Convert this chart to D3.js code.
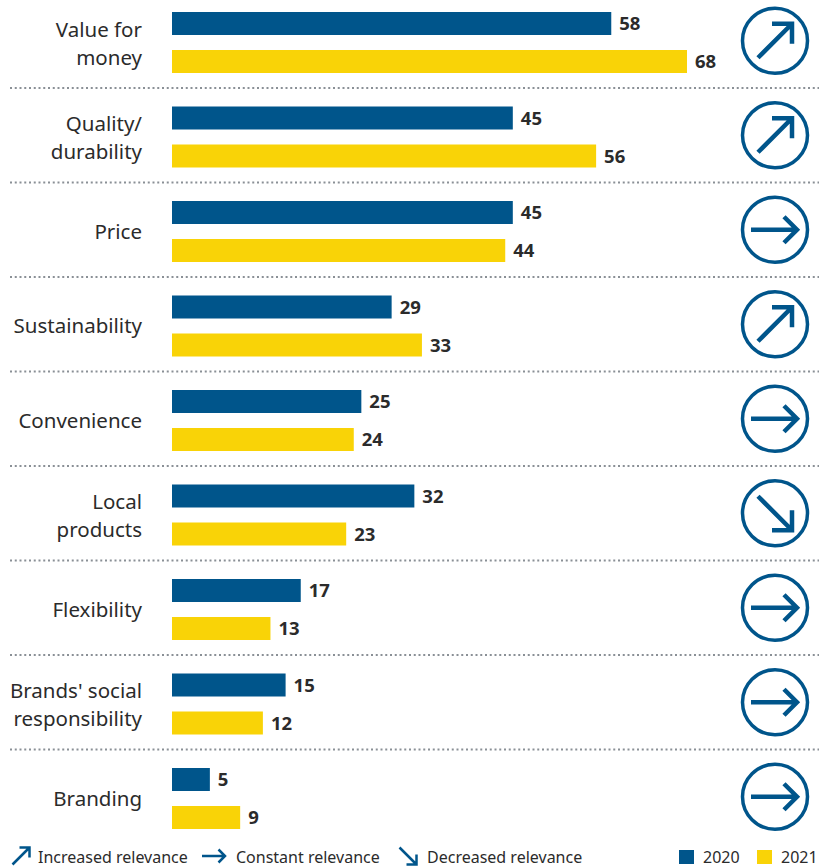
<!DOCTYPE html>
<html>
<head>
<meta charset="utf-8">
<script src="https://d3js.org/d3.v7.min.js"></script>
<style>
  body { margin: 0; background: #fff; }
  text { font-family: "Noto Sans", "Open Sans", sans-serif; }
</style>
</head>
<body>
<div id="chart"></div>
<script>
// data
var categories = ["Value for money", "Quality/ durability", "Price", "Sustainability", "Convenience",
                  "Local products", "Flexibility", "Brands' social responsibility", "Branding"];
var labelLines = [["Value for", "money"], ["Quality/", "durability"], ["Price"], ["Sustainability"],
                  ["Convenience"], ["Local", "products"], ["Flexibility"], ["Brands' social", "responsibility"], ["Branding"]];
var values2020 = [58, 45, 45, 29, 25, 32, 17, 15, 5];
var values2021 = [68, 56, 44, 33, 24, 23, 13, 12, 9];
var trends = ["up", "up", "flat", "up", "flat", "down", "flat", "flat", "flat"];
var years = ["2020", "2021"];
var legendItems = [["up", "Increased relevance"], ["flat", "Constant relevance"], ["down", "Decreased relevance"]];

var W = 819, H = 868;
var blue = "#00558b", yellow = "#f9d307", textCol = "#2b2b2b";

var svg = d3.select("#chart").append("svg")
  .attr("width", W).attr("height", H);

var x = d3.scaleLinear().domain([0, 68]).range([172, 687]);
var y = d3.scaleBand().domain(categories).range([-6.5, 844]);
var barH = 23;

// separators
svg.append("g").selectAll("line")
  .data(categories.slice(1))
  .join("line")
    .attr("x1", 10).attr("x2", W)
    .attr("y1", function(d) { return y(d); })
    .attr("y2", function(d) { return y(d); })
    .attr("stroke", "#8a9096")
    .attr("stroke-width", 2)
    .attr("stroke-dasharray", "2,2.75");

var groups = svg.append("g").selectAll("g")
  .data(categories)
  .join("g")
    .attr("transform", function(d) { return "translate(0," + y(d) + ")"; });

var mid = y.bandwidth() / 2;

// bars
groups.append("rect")
  .attr("x", x(0)).attr("y", 18.5)
  .attr("width", function(d, i) { return x(values2020[i]) - x(0); })
  .attr("height", barH).attr("fill", blue);
groups.append("rect")
  .attr("x", x(0)).attr("y", 56.5)
  .attr("width", function(d, i) { return x(values2021[i]) - x(0); })
  .attr("height", barH).attr("fill", yellow);

// value labels
groups.append("text")
  .attr("x", function(d, i) { return x(values2020[i]) + 8; })
  .attr("y", 18.5 + barH / 2).attr("dy", "0.36em")
  .attr("font-size", 18.5).attr("font-weight", "bold").attr("fill", textCol)
  .text(function(d, i) { return values2020[i]; });
groups.append("text")
  .attr("x", function(d, i) { return x(values2021[i]) + 8; })
  .attr("y", 56.5 + barH / 2).attr("dy", "0.36em")
  .attr("font-size", 18.5).attr("font-weight", "bold").attr("fill", textCol)
  .text(function(d, i) { return values2021[i]; });

// category labels
groups.each(function(d, i) {
  var lines = labelLines[i];
  var t = d3.select(this).append("text")
    .attr("text-anchor", "end")
    .attr("font-size", 20.5).attr("fill", textCol);
  lines.forEach(function(l, j) {
    var by = lines.length === 1 ? mid + 9 : mid - 4 + j * 28;
    t.append("tspan").attr("x", 142).attr("y", by).text(l);
  });
});

// arrow paths, drawn around (0,0)
function arrowPath(type, s) {
  s = s || 1;
  if (type === "up") {
    return "M" + (-17 * s) + "," + (17 * s) + "L" + (17 * s) + "," + (-17 * s) +
           "M" + (-3 * s) + "," + (-17 * s) + "L" + (17 * s) + "," + (-17 * s) + "L" + (17 * s) + "," + (3 * s);
  }
  if (type === "down") {
    return "M" + (-17 * s) + "," + (-17 * s) + "L" + (17 * s) + "," + (17 * s) +
           "M" + (-3 * s) + "," + (17 * s) + "L" + (17 * s) + "," + (17 * s) + "L" + (17 * s) + "," + (-3 * s);
  }
  return "M" + (-24 * s) + "," + 0 + "L" + (22 * s) + "," + 0 +
         "M" + (9 * s) + "," + (-13 * s) + "L" + (22 * s) + "," + 0 + "L" + (9 * s) + "," + (13 * s);
}

var icons = groups.append("g")
  .attr("transform", "translate(775," + mid + ")");
icons.append("circle")
  .attr("r", 32.5).attr("fill", "none")
  .attr("stroke", blue).attr("stroke-width", 3.5);
icons.append("path")
  .attr("d", function(d, i) { return arrowPath(trends[i]); })
  .attr("fill", "none").attr("stroke", blue)
  .attr("stroke-width", 4.5).attr("stroke-linejoin", "miter").attr("stroke-linecap", "butt");

// legend: relevance
var legX = [21, 214, 408], legTextX = [38, 236, 427];
var leg = svg.append("g").selectAll("g")
  .data(legendItems)
  .join("g");
leg.append("path")
  .attr("transform", function(d, i) { return "translate(" + legX[i] + ",856)"; })
  .attr("d", function(d) { return arrowPath(d[0], 0.5); })
  .attr("fill", "none").attr("stroke", blue).attr("stroke-width", 2.5);
leg.append("text")
  .attr("x", function(d, i) { return legTextX[i]; })
  .attr("y", 863)
  .attr("font-size", 16).attr("fill", textCol)
  .text(function(d) { return d[1]; });

// legend: years
var yearX = [679, 757];
var yl = svg.append("g").selectAll("g")
  .data(years)
  .join("g");
yl.append("rect")
  .attr("x", function(d, i) { return yearX[i]; })
  .attr("y", 850).attr("width", 15).attr("height", 14)
  .attr("fill", function(d, i) { return i === 0 ? blue : yellow; });
yl.append("text")
  .attr("x", function(d, i) { return yearX[i] + 24; })
  .attr("y", 863)
  .attr("font-size", 16).attr("fill", textCol)
  .text(function(d) { return d; });
</script>
</body>
</html>
